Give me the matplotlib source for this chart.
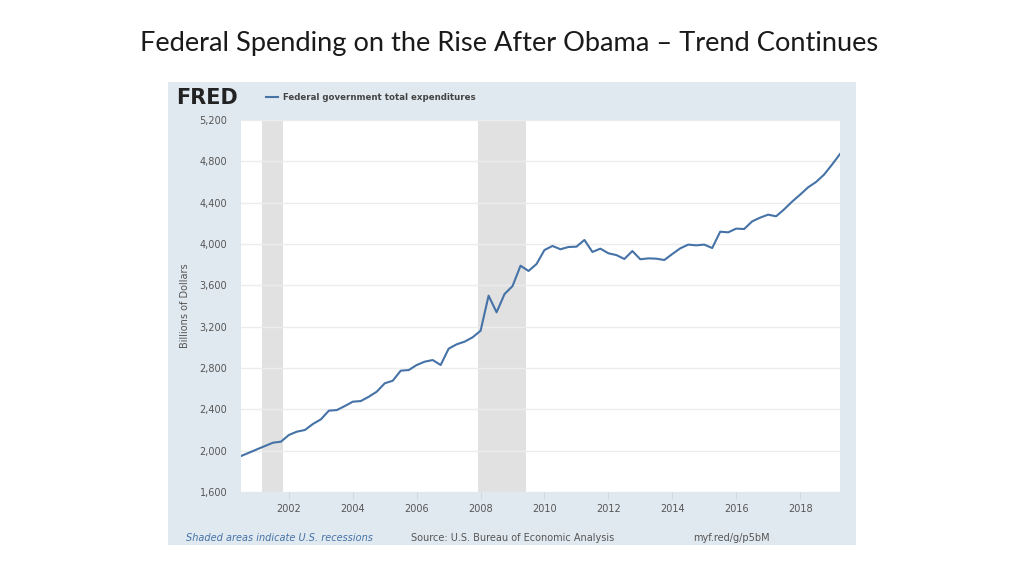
import numpy as np
import pandas as pd
import matplotlib
matplotlib.use("Agg")
import matplotlib.pyplot as plt

# ── Data (billions of dollars, quarterly) ──
quarters = pd.period_range("2000Q3", "2019Q2", freq="Q")
spending = [
    1948, 1980, 2013, 2045, 2077, 2087, 2152, 2184, 2200, 2258,
    2303, 2387, 2393, 2432, 2474, 2480, 2522, 2571, 2652, 2677,
    2774, 2780, 2829, 2861, 2877, 2829, 2987, 3029, 3055, 3097,
    3161, 3500, 3339, 3516, 3593, 3790, 3739, 3806, 3942, 3981,
    3949, 3971, 3974, 4039, 3923, 3955, 3910, 3893, 3855, 3932,
    3852, 3861, 3858, 3845, 3903, 3958, 3994, 3987, 3994, 3961,
    4119, 4113, 4149, 4145, 4219, 4255, 4284, 4268, 4335, 4410,
    4477, 4548, 4600, 4671, 4768, 4871,
]
recessions = [(2001.17, 2001.83), (2007.92, 2009.42)]
year_ticks = list(range(2002, 2019, 2))
value_ticks = list(range(1600, 5201, 400))

x = quarters.year + (quarters.quarter - 1) / 4.0

LINE = "#4572a7"
PANEL = "#e1e9f0"
TXT = "#555555"

fig = plt.figure(figsize=(10.24, 5.76), dpi=100)
fig.patch.set_facecolor("white")

# title
fig.text(0.497, 0.924, "Federal Spending on the Rise After Obama \u2013 Trend Continues",
         ha="center", va="center", fontsize=19.6, family="Lato", color="#1a1a1a")

# FRED panel background (own axes, behind the chart)
bg = fig.add_axes([168 / 1024, 31 / 576, 688 / 1024, 463 / 576], zorder=0)
bg.set_facecolor(PANEL)
bg.set_xticks([])
bg.set_yticks([])
for s in bg.spines.values():
    s.set_visible(False)

ax = fig.add_axes([241 / 1024, 84 / 576, 599 / 1024, 372 / 576], zorder=1)
ax.set_facecolor("white")
for s in ax.spines.values():
    s.set_visible(False)

for start, end in recessions:
    ax.axvspan(start, end, color="#e1e1e1", lw=0, zorder=1)

ax.plot(x, spending, color=LINE, lw=1.5, zorder=3)

ax.set_xlim(x[0], x[-1])
ax.set_ylim(1600, 5200)
ax.set_yticks(value_ticks)
ax.set_yticklabels([f"{v:,}" for v in value_ticks])
ax.set_xticks(year_ticks)
ax.grid(axis="y", color="#ececec", lw=1, zorder=2)
ax.tick_params(axis="y", length=0, labelsize=7, labelcolor=TXT, pad=10)
ax.tick_params(axis="x", length=5, color="#d0d8e0", labelsize=7,
               labelcolor=TXT, pad=4)
ax.set_ylabel("Billions of Dollars", fontsize=7, color=TXT, labelpad=7)

# header: logo + legend
fig.text(176 / 1024, 1 - 98 / 576, "FRED", fontsize=15, fontweight="heavy",
         color="#222222", va="center", ha="left")
fig.add_artist(plt.Line2D([266 / 1024, 278 / 1024], [1 - 97 / 576] * 2,
                          color=LINE, lw=1.5, transform=fig.transFigure))
fig.text(283 / 1024, 1 - 97 / 576, "Federal government total expenditures",
         fontsize=6.2, fontweight="bold", color="#444444", va="center", ha="left")

# footer
fig.text(186 / 1024, 1 - 538 / 576, "Shaded areas indicate U.S. recessions",
         fontsize=7, style="italic", color=LINE, va="center", ha="left")
fig.text(411 / 1024, 1 - 538 / 576, "Source: U.S. Bureau of Economic Analysis",
         fontsize=7, color=TXT, va="center", ha="left")
fig.text(693 / 1024, 1 - 538 / 576, "myf.red/g/p5bM",
         fontsize=7, color=TXT, va="center", ha="left")

fig.savefig("out.png", dpi=100)
plt.close(fig)
